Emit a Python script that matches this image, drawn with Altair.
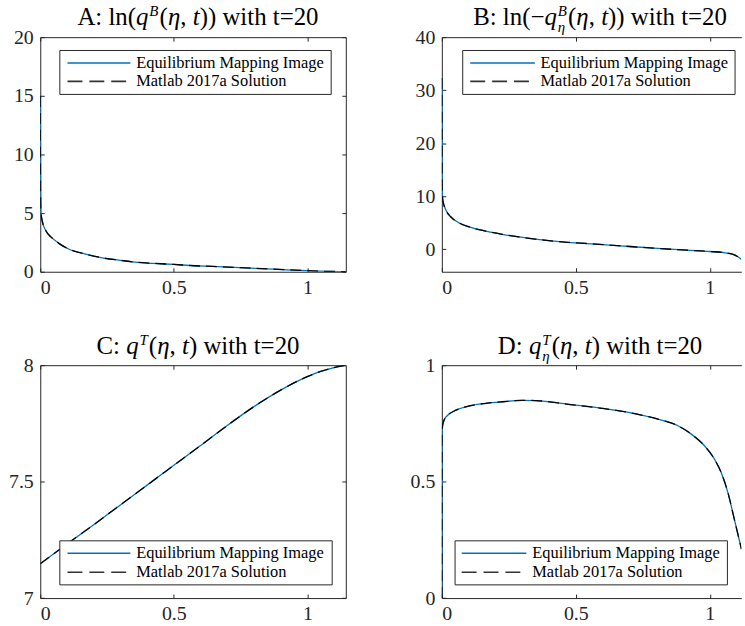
import altair as alt
import pandas as pd

# ---------------- data ----------------
A_ETA = [0, 0.001, 0.0025, 0.0087, 0.021, 0.04, 0.071, 0.108, 0.17, 0.232, 0.294,
         0.356, 0.42, 0.5, 0.58, 0.644, 0.768, 0.892, 0.997, 1.078, 1.144]
A_VAL = [15.0, 7.0, 5.1, 4.2, 3.5, 2.97, 2.4, 1.92, 1.5, 1.19, 0.99,
         0.82, 0.72, 0.62, 0.51, 0.45, 0.33, 0.2, 0.09, 0.03, 0.01]

B_ETA = [0, 0.001, 0.0037, 0.016, 0.034, 0.065, 0.102, 0.164, 0.225, 0.287, 0.348,
         0.47, 0.543, 0.666, 0.79, 0.914, 1.0, 1.05, 1.087, 1.105, 1.118]
B_VAL = [32.3, 12.0, 9.2, 7.3, 6.06, 4.94, 4.19, 3.4, 2.8, 2.3, 1.9,
         1.3, 1.06, 0.63, 0.19, -0.19, -0.44, -0.63, -1.0, -1.44, -1.94]

C_ETA = [0, 0.1, 0.2, 0.3, 0.4, 0.5, 0.6, 0.7, 0.8, 0.9, 1.0, 1.05, 1.1, 1.144]
C_VAL = [7.147, 7.232, 7.315, 7.40, 7.485, 7.57, 7.655, 7.741, 7.822, 7.893,
         7.951, 7.973, 7.99, 8.0]

D_ETA = [0, 0.0005, 0.0037, 0.01, 0.022, 0.053, 0.103, 0.164, 0.226, 0.3, 0.35,
         0.473, 0.597, 0.72, 0.82, 0.881, 0.931, 0.98, 1.017, 1.042, 1.067,
         1.091, 1.11, 1.118]
D_VAL = [0.0, 0.70, 0.747, 0.768, 0.785, 0.807, 0.825, 0.836, 0.843, 0.849, 0.848,
         0.832, 0.815, 0.792, 0.764, 0.74, 0.704, 0.654, 0.597, 0.54, 0.455,
         0.341, 0.249, 0.21]

X_TICKS = [0, 0.5, 1]
A_YTICKS = [0, 5, 10, 15, 20]
B_YTICKS = [0, 10, 20, 30, 40]
C_YTICKS = [7, 7.5, 8]
D_YTICKS = [0, 0.5, 1]

LEGEND_LABELS = ["Equilibrium Mapping Image", "Matlab 2017a Solution"]

TITLE_A = [("A: ln(", "n"), ("q", "i"), ("B", "sup"), ("(", "n"), ("η", "i"),
           (", ", "n"), ("t", "i"), ("))", "n"), (" with t=20", "n")]
TITLE_B = [("B: ln(−", "n"), ("q", "i"), ("B", "sup"), ("η", "sub"), ("(", "n"),
           ("η", "i"), (", ", "n"), ("t", "i"), ("))", "n"), (" with t=20", "n")]
TITLE_C = [("C: ", "n"), ("q", "i"), ("T", "sup"), ("(", "n"), ("η", "i"),
           (", ", "n"), ("t", "i"), (")", "n"), (" with t=20", "n")]
TITLE_D = [("D: ", "n"), ("q", "i"), ("T", "sup"), ("η", "sub"), ("(", "n"),
           ("η", "i"), (", ", "n"), ("t", "i"), (")", "n"), (" with t=20", "n")]

# ---------------- style ----------------
FONT = "Liberation Serif"
BLUE = "#0072BD"
AX = "#262626"
TICK_FS = 20
TITLE_FS = 25
LEG_FS = 16.5

W_LEFT = 307.4
W_RIGHT = 301.3
H_TOP = 236
H_BOT = 234.3
PX_PER_UNIT_RIGHT = 269.6

ONE = pd.DataFrame({"k": [0]})

NORMAL_W = {" ": 250, "(": 333, ")": 333, ",": 250, ":": 278, "=": 564, "−": 564,
            "0": 500, "2": 500, "A": 722, "B": 667, "C": 667, "D": 722, "l": 278,
            "n": 500, "w": 722, "i": 278, "t": 278, "h": 500}
ITALIC_W = {"q": 500, "t": 278, "η": 500, "B": 611, "T": 556}


def seg_width(text, italic, size):
    table = ITALIC_W if italic else NORMAL_W
    return sum(table.get(ch, 500) for ch in text) / 1000.0 * size


def title_layers(segs, center, base_y, fs):
    items = []
    x = 0.0
    i = 0
    while i < len(segs):
        text, kind = segs[i]
        if kind in ("sup", "sub"):
            group = [segs[i]]
            if i + 1 < len(segs) and segs[i + 1][1] in ("sup", "sub"):
                group.append(segs[i + 1])
                i += 1
            gw = 0.0
            for t, k in group:
                s = fs * 0.6
                dy = -0.36 * fs if k == "sup" else 0.3 * fs
                items.append((t, x + 0.8, base_y + dy, s, True))
                gw = max(gw, seg_width(t, True, s))
            x += gw + 2.0
        else:
            italic = kind == "i"
            lead = len(text) - len(text.lstrip(" "))
            items.append((text.strip(" "), x + lead * 0.25 * fs, base_y, fs, italic))
            x += seg_width(text, italic, fs)
        i += 1
    start = center - x / 2.0 + 5
    layers = []
    for t, px, py, s, it in items:
        layers.append(
            alt.Chart(ONE).mark_text(
                text=t, align="left", baseline="alphabetic", font=FONT,
                fontSize=s, fontStyle="italic" if it else "normal", color="black"
            ).encode(x=alt.value(start + px), y=alt.value(py))
        )
    return layers


def legend_layers(box, sample, text_x, rows):
    x0, x1, y0, y1 = box
    out = [
        alt.Chart(ONE).mark_rect(fill="white", stroke=AX, strokeWidth=1).encode(
            x=alt.value(x0), x2=alt.value(x1), y=alt.value(y0), y2=alt.value(y1)),
        alt.Chart(ONE).mark_rule(color=BLUE, strokeWidth=1.5).encode(
            x=alt.value(sample[0]), x2=alt.value(sample[1]), y=alt.value(rows[0])),
        alt.Chart(ONE).mark_rule(color="#333333", strokeWidth=1.6, strokeDash=[15, 7]).encode(
            x=alt.value(sample[0]), x2=alt.value(sample[1]), y=alt.value(rows[1])),
    ]
    for lab, ry in zip(LEGEND_LABELS, rows):
        out.append(
            alt.Chart(ONE).mark_text(text=lab, align="left", baseline="middle", font=FONT,
                                     fontSize=LEG_FS, color="black").encode(
                x=alt.value(text_x), y=alt.value(ry)))
    return out


def panel(eta, val, xmax, ydom, yticks, W, H, title, title_center, title_y, legend,
          right_border):
    df = pd.DataFrame({"eta": eta, "val": val})
    xs = alt.Scale(domain=[0, xmax], nice=False, zero=False)
    ys = alt.Scale(domain=ydom, nice=False, zero=False)
    common = dict(grid=False, title=None, labelFont=FONT, labelFontSize=TICK_FS,
                  labelColor=AX, domainColor=AX, tickColor=AX, domainWidth=1, tickWidth=1,
                  format=".1~f")
    ax_bottom = alt.Axis(orient="bottom", values=X_TICKS, ticks=False, tickSize=0,
                         labelPadding=6, domain=True, **common)
    ax_left = alt.Axis(orient="left", values=yticks, ticks=False, tickSize=0,
                       labelPadding=7, domain=True, **common)
    # inward ticks on bottom / left
    tk_bottom = alt.Axis(orient="top", offset=-H, values=X_TICKS, labels=False, ticks=True,
                         tickSize=4, domain=False, **common)
    tk_left = alt.Axis(orient="right", offset=-W, values=yticks, labels=False, ticks=True,
                       tickSize=4, domain=False, **common)
    # top border + ticks, right border + ticks
    tk_top = alt.Axis(orient="bottom", offset=-H, values=X_TICKS, labels=False, ticks=True,
                      tickSize=4, domain=True, **common)
    tk_right = alt.Axis(orient="left", offset=-W, values=yticks, labels=False,
                        ticks=right_border, tickSize=4, domain=right_border, **common)

    blue = alt.Chart(df).mark_line(color=BLUE, strokeWidth=1.3, clip=True,
                                   interpolate="monotone").encode(
        x=alt.X("eta:Q", scale=xs, axis=ax_bottom),
        y=alt.Y("val:Q", scale=ys, axis=ax_left))
    dash = alt.Chart(df).mark_line(color="black", strokeWidth=1.3, strokeDash=[11, 6],
                                   clip=True, interpolate="monotone").encode(
        x=alt.X("eta:Q", scale=xs, axis=tk_bottom),
        y=alt.Y("val:Q", scale=ys, axis=tk_left))
    frame = alt.Chart(df).mark_point(opacity=0).encode(
        x=alt.X("eta:Q", scale=xs, axis=tk_top),
        y=alt.Y("val:Q", scale=ys, axis=tk_right))

    layers = [blue, dash, frame]
    layers += legend_layers(*legend)
    layers += title_layers(title, title_center, title_y, TITLE_FS)
    return alt.layer(*layers).resolve_axis(x="independent", y="independent").properties(
        width=W, height=H)


pA = panel(A_ETA, A_VAL, 1.144, [0, 20], A_YTICKS, W_LEFT, H_TOP, TITLE_A, W_LEFT / 2, -12.7,
           ((19.7, 292.7, 13.4, 57.6), (27.4, 90.7), 96.5, (26.0, 44.5)), True)
pB = panel(B_ETA, B_VAL, W_RIGHT / PX_PER_UNIT_RIGHT, [-4.26, 40], B_YTICKS, W_RIGHT, H_TOP,
           TITLE_B, 1.1441 * PX_PER_UNIT_RIGHT / 2, -12.7,
           ((21.0, 295.0, 13.4, 57.6), (28.6, 93.6), 99.3, (26.0, 44.5)), False)
pC = panel(C_ETA, C_VAL, 1.144, [7, 8], C_YTICKS, W_LEFT, H_BOT, TITLE_C, W_LEFT / 2, -11.5,
           ((19.7, 293.7, 176.7, 221.0), (27.4, 90.7), 96.5, (189.3, 208.3)), True)
pD = panel(D_ETA, D_VAL, W_RIGHT / PX_PER_UNIT_RIGHT, [0, 1], D_YTICKS, W_RIGHT, H_BOT,
           TITLE_D, 1.1441 * PX_PER_UNIT_RIGHT / 2, -11.5,
           ((13.3, 287.3, 176.7, 221.0), (20.0, 85.0), 91.0, (189.3, 208.3)), False)

chart = alt.concat(pA, pB, pC, pD, columns=2, spacing={"row": 94.0, "column": 96},
                   bounds="flush").properties(
    padding={"left": 8.5, "top": 1.5, "right": 0, "bottom": 0},
    background="white",
).configure_view(stroke=None)

chart.save("out.html", embed_options={"renderer": "svg", "actions": False})
